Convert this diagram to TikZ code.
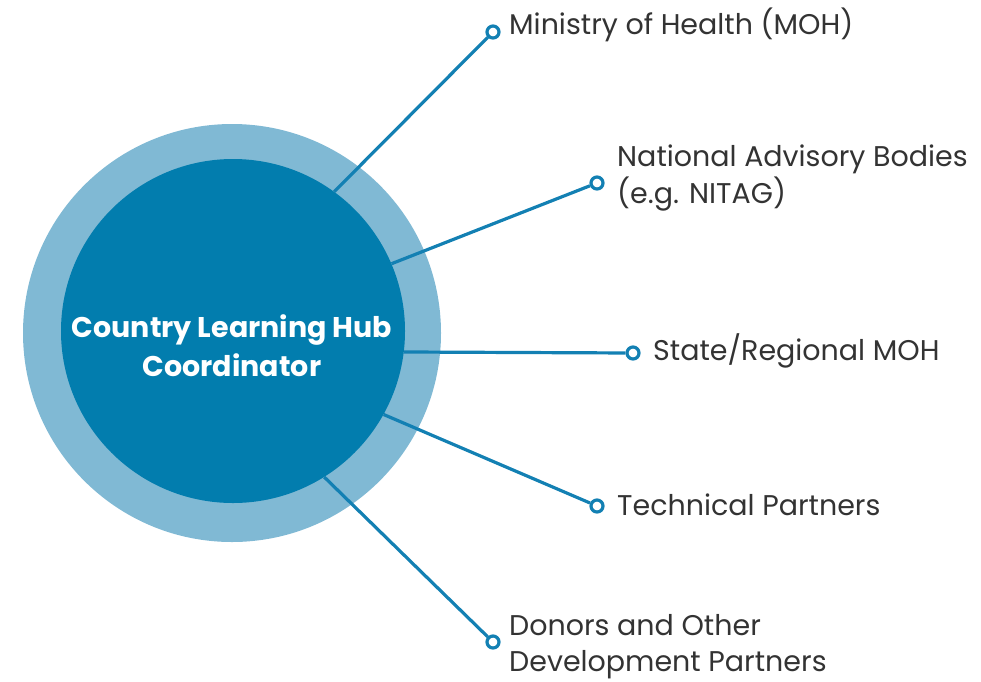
\documentclass[tikz,border=0pt]{standalone}
\usepackage{fontspec}
\setmainfont{Poppins}
\usetikzlibrary{positioning}
\definecolor{hubdark}{HTML}{027DAE}
\definecolor{hubring}{HTML}{80B9D4}
\definecolor{linkblue}{HTML}{1380B3}
\definecolor{labelgray}{HTML}{333333}
\tikzset{
  link/.style={draw=linkblue, line width=3.2pt},
  enddot/.style={circle, draw=linkblue, line width=3.2pt, fill=white, inner sep=0pt, minimum size=12pt},
  partner/.style={anchor=base west, text=labelgray, font=\fontsize{28.5}{37}\selectfont, align=left, inner sep=0pt},
}
\begin{document}
\begin{tikzpicture}[x=1pt,y=-1pt]
        \useasboundingbox (0,0) rectangle (981,681);
        % Hub circles
        \node[circle, fill=hubring, minimum size=418pt, inner sep=0pt] (ring) at (232,333) {};
        \node[circle, fill=hubdark, minimum size=344pt, inner sep=0pt] (hub) at (233,331) {};
        \node[text=white, font=\bfseries\fontsize{28.5}{39}\selectfont, align=center, anchor=base] (title) at (232,376) {Country Learning Hub\\Coordinator};
        % End points
        \node[enddot] (dmoh) at (493,32) {};
        \node[enddot] (dnitag) at (597,183) {};
        \node[enddot] (dstate) at (633,353) {};
        \node[enddot] (dtech) at (597,506) {};
        \node[enddot] (ddonor) at (493,642) {};
        % Links from the hub
        \draw[link] (hub.54) -- (dmoh);
        \draw[link] (hub.23) -- (dnitag);
        \draw[link] (hub.-7.3) -- (dstate);
        \draw[link] (hub.-29) -- (dtech);
        \draw[link] (hub.-58) -- (ddonor);
        % Labels
        \node[partner] (moh) at (509,34) {Ministry of Health (MOH)};
        \node[partner] (nitag) at (617,203) {National Advisory Bodies\\(e.g. NITAG)};
        \node[partner] (state) at (653,360) {State/Regional MOH};
        \node[partner] (tech) at (617,515) {Technical Partners};
        \node[partner, font=\fontsize{28.5}{36}\selectfont] (donor) at (509,671) {Donors and Other\\Development Partners};
    \end{tikzpicture}
\end{document}
